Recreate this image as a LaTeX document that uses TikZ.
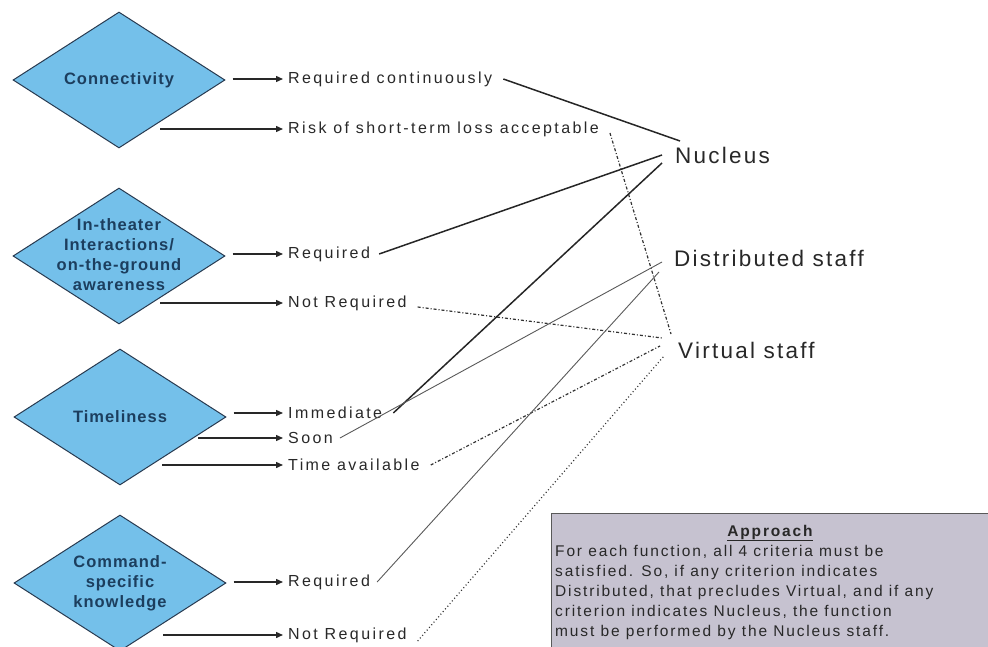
\documentclass[tikz,border=0pt]{standalone}
\usepackage{fontspec}
\setmainfont{Liberation Sans}
\newfontfamily\critfont[LetterSpace=6]{Liberation Sans}
\newfontfamily\labelfont[LetterSpace=15]{Liberation Sans}
\newfontfamily\outfont[LetterSpace=10]{Liberation Sans}
\newfontfamily\notefont[LetterSpace=12]{Liberation Sans}
\usepackage{tikz}
\usetikzlibrary{shapes.geometric,arrows.meta,positioning}
\definecolor{critblue}{RGB}{116,192,234}
\definecolor{critedge}{RGB}{40,58,80}
\definecolor{crittext}{RGB}{28,62,94}
\definecolor{notefill}{RGB}{198,194,208}
\definecolor{inkgray}{RGB}{40,40,40}

\begin{document}
\begin{tikzpicture}[x=1pt, y=-1pt,
        critnode/.style={diamond, draw=critedge, fill=critblue, line width=1pt, minimum width=212pt, minimum height=136pt, inner sep=0pt},
        crittext/.style={text=crittext, align=center, inner sep=0pt, font=\critfont\bfseries\fontsize{16.5}{20}\selectfont},
        labelnode/.style={anchor=west, inner sep=5pt, text=inkgray, font=\labelfont\fontsize{16}{19}\selectfont},
        outnode/.style={anchor=west, inner sep=0pt, text=inkgray, font=\outfont\fontsize{22.5}{26}\selectfont},
        notebox/.style={draw=black!65, fill=notefill, line width=1.2pt, anchor=north west, minimum width=444pt, minimum height=142pt},
        notetext/.style={text=inkgray, align=left, inner sep=0pt, font=\notefont\fontsize{15.5}{20}\selectfont},
        arr/.style={-{Triangle[length=7pt,width=6pt]}, line width=1.4pt, draw=inkgray},
        solidlink/.style={line width=1.5pt, draw=black!85},
        thinlink/.style={line width=0.9pt, draw=black!65},
        dashdotlink/.style={line width=1.2pt, draw=black!80, dash pattern=on 3pt off 2pt on 1pt off 2pt},
        dotlink/.style={line width=1.2pt, draw=black!80, dash pattern=on 1pt off 2.5pt}]
    \useasboundingbox (0,0) rectangle (988,647);

    % criteria
    \node [critnode] at (119, 80)  (conn) {};
    \node [critnode] at (119, 256) (thtr) {};
    \node [critnode] at (120, 417) (time) {};
    \node [critnode] at (120, 583) (cmd)  {};
    \node [crittext] at (conn) (conn-t) {Connectivity};
    \node [crittext] at ([yshift=1]thtr) (thtr-t) {In-theater\\Interactions/\\on-the-ground\\awareness};
    \node [crittext] at (time) (time-t) {Timeliness};
    \node [crittext] at (cmd)  (cmd-t)  {Command-\\specific\\knowledge};

    % answers
    \node [labelnode] at (283, 79)  (reqc)   {Required continuously};
    \node [labelnode] at (283, 129) (risk)   {Risk of short-term loss acceptable};
    \node [labelnode] at (283, 254) (threq)  {Required};
    \node [labelnode] at (283, 303) (thnot)  {Not Required};
    \node [labelnode] at (283, 413) (immed)  {Immediate};
    \node [labelnode] at (283, 438) (soon)   {Soon};
    \node [labelnode] at (283, 465) (avail)  {Time available};
    \node [labelnode] at (283, 582) (cmdreq) {Required};
    \node [labelnode] at (283, 635) (cmdnot) {Not Required};

    \coordinate (conn-lo) at (160, 129);
    \coordinate (thtr-lo) at (160, 303);
    \coordinate (time-mid) at (198, 438);
    \coordinate (time-lo) at (162, 465);
    \coordinate (cmd-lo) at (163, 635);

    \draw [arr] ([xshift=7]conn.east |- reqc.west) -- (reqc.west);
    \draw [arr] (conn-lo) -- (risk.west);
    \draw [arr] ([xshift=7]thtr.east |- threq.west) -- (threq.west);
    \draw [arr] (thtr-lo) -- (thnot.west);
    \draw [arr] ([xshift=7]time.east |- immed.west) -- (immed.west);
    \draw [arr] (time-mid) -- (soon.west);
    \draw [arr] (time-lo) -- (avail.west);
    \draw [arr] ([xshift=7]cmd.east |- cmdreq.west) -- (cmdreq.west);
    \draw [arr] (cmd-lo) -- (cmdnot.west);

    % staffing
    \node [outnode] at (675, 155) (nuc)  {Nucleus};
    \node [outnode] at (674, 258) (dist) {Distributed staff};
    \node [outnode] at (678, 350) (virt) {Virtual staff};

    \coordinate (nuc-a)  at (680, 141);
    \coordinate (nuc-b)  at (662, 155);
    \coordinate (nuc-c)  at (662, 163);
    \coordinate (dist-a) at (662, 262);
    \coordinate (dist-b) at (659, 272);
    \coordinate (virt-a) at (671, 334);
    \coordinate (virt-b) at (662, 338);
    \coordinate (virt-c) at (660, 346);
    \coordinate (virt-d) at (664, 356);

    \draw [solidlink] ([xshift=6]reqc.east) -- (nuc-a);
    \draw [dashdotlink] ([xshift=6,yshift=-4]risk.east) -- (virt-a);
    \draw [solidlink] ([xshift=4]threq.east) -- (nuc-b);
    \draw [dashdotlink] ([xshift=6,yshift=-4]thnot.east) -- (virt-b);
    \draw [solidlink] ([xshift=6]immed.east) -- (nuc-c);
    \draw [thinlink] ([xshift=2]soon.east) -- (dist-a);
    \draw [dashdotlink] ([xshift=6]avail.east) -- (virt-c);
    \draw [thinlink] ([xshift=2]cmdreq.east) -- (dist-b);
    \draw [dotlink] ([xshift=6,yshift=-6]cmdnot.east) -- (virt-d);

    % approach note
    \node [notebox] at (551, 513) (note) {};
    \node [notetext, font=\notefont\bfseries\fontsize{15.5}{20}\selectfont] at (770, 533) (note-h) {\underline{Approach}};
    \node [notetext, anchor=north west] at (555, 545) (note-b) {For each function, all 4 criteria must be\\satisfied. So, if any criterion indicates\\Distributed, that precludes Virtual, and if any\\criterion indicates Nucleus, the function\\must be performed by the Nucleus staff.};
\end{tikzpicture}
\end{document}
